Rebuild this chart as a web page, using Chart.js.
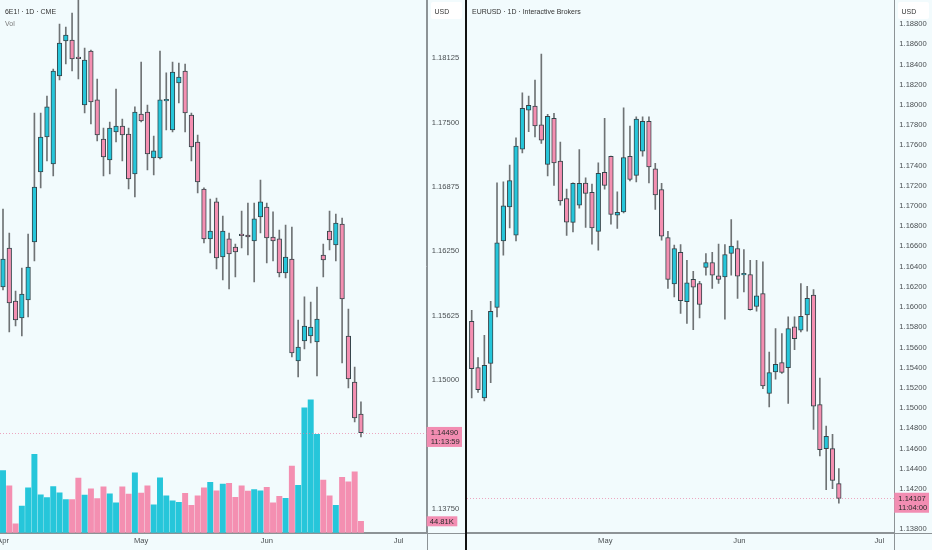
<!DOCTYPE html>
<html>
<head>
<meta charset="utf-8">
<title>6E1! vs EURUSD</title>
<script src="https://cdn.jsdelivr.net/npm/chart.js@4.4.1/dist/chart.umd.min.js"></script>
<style>
    html, body { margin: 0; padding: 0; background: #f2fbfd; }
    #wrap { position: relative; width: 932px; height: 550px; overflow: hidden; background: #f2fbfd; }
    #leftBox { position: absolute; left: 0; top: 0; width: 465px; height: 550px; }
    #rightBox { position: absolute; left: 467px; top: 0; width: 465px; height: 550px; }
    #sep { position: absolute; left: 465px; top: 0; width: 2px; height: 550px; background: #111; }
</style>
</head>
<body>
<div id="wrap">
    <div id="leftBox"><canvas id="leftChart" width="465" height="550"></canvas></div>
    <div id="sep"></div>
    <div id="rightBox"><canvas id="rightChart" width="465" height="550"></canvas></div>
</div>
<script>
// 6E1! (CME futures), daily bars
const leftOpen = [1.15903, 1.16281, 1.15767, 1.15602, 1.15777, 1.16339, 1.17019, 1.17358, 1.17096, 1.17950,
    1.18290, 1.18300, 1.18125, 1.17669, 1.18193, 1.17718, 1.17339, 1.17135, 1.17407, 1.17465,
    1.17387, 1.16999, 1.17582, 1.17601, 1.17155, 1.17155, 1.17708, 1.17426, 1.17883, 1.17999,
    1.17572, 1.17310, 1.16854, 1.16369, 1.16728, 1.16194, 1.16369, 1.16291, 1.16407, 1.16407,
    1.16349, 1.16582, 1.16679, 1.16388, 1.16369, 1.16039, 1.16174, 1.15184, 1.15379, 1.15427,
    1.15369, 1.16213, 1.16446, 1.16310, 1.16514, 1.15427, 1.14981, 1.14670];
const leftHigh = [1.16660, 1.16427, 1.15864, 1.16087, 1.16417, 1.17591, 1.17591, 1.17756, 1.18018, 1.18455,
    1.18426, 1.18562, 1.18766, 1.18222, 1.18203, 1.17921, 1.17446, 1.17504, 1.17824, 1.17533,
    1.17446, 1.17650, 1.18086, 1.17669, 1.17368, 1.18193, 1.17980, 1.18086, 1.18077, 1.18067,
    1.17591, 1.17378, 1.16864, 1.16757, 1.16766, 1.16592, 1.16427, 1.16320, 1.16640, 1.16718,
    1.16718, 1.16941, 1.16718, 1.16631, 1.16456, 1.16504, 1.16485, 1.15582, 1.15806, 1.15757,
    1.15903, 1.16320, 1.16640, 1.16611, 1.16572, 1.15689, 1.15126, 1.14787];
const leftLow = [1.15874, 1.15466, 1.15524, 1.15427, 1.15612, 1.16155, 1.16864, 1.17126, 1.16980, 1.17912,
    1.18067, 1.17999, 1.17921, 1.17591, 1.17485, 1.17320, 1.16980, 1.16999, 1.17310, 1.17126,
    1.16854, 1.16776, 1.17504, 1.17038, 1.16990, 1.17145, 1.17426, 1.17407, 1.17688, 1.17407,
    1.17126, 1.16815, 1.16330, 1.16233, 1.16077, 1.15971, 1.15883, 1.16000, 1.16281, 1.16213,
    1.15951, 1.16427, 1.16136, 1.16155, 1.16000, 1.15990, 1.15223, 1.15029, 1.15301, 1.15359,
    1.15039, 1.16000, 1.16262, 1.16155, 1.15165, 1.14923, 1.14593, 1.14447];
const leftClose = [1.16174, 1.15747, 1.15582, 1.15835, 1.16097, 1.16873, 1.17358, 1.17650, 1.17999, 1.18271,
    1.18348, 1.18115, 1.18118, 1.18106, 1.17698, 1.17378, 1.17164, 1.17446, 1.17465, 1.17378,
    1.16951, 1.17601, 1.17514, 1.17193, 1.17223, 1.17718, 1.17712, 1.17989, 1.17941, 1.17591,
    1.17261, 1.16922, 1.16369, 1.16446, 1.16184, 1.16446, 1.16223, 1.16242, 1.16400, 1.16388,
    1.16563, 1.16728, 1.16378, 1.16349, 1.16039, 1.16194, 1.15262, 1.15320, 1.15524, 1.15514,
    1.15592, 1.16165, 1.16359, 1.16524, 1.15786, 1.15010, 1.14631, 1.14490];
// volume in thousands of contracts
const leftVolume = [244, 184, 35, 105, 176, 308, 149, 138, 181, 157,
    130, 130, 215, 148, 172, 134, 180, 153, 117, 180,
    152, 235, 156, 184, 110, 216, 145, 125, 119, 155,
    108, 145, 176, 198, 165, 191, 194, 139, 184, 164,
    169, 165, 178, 117, 143, 135, 262, 186, 491, 522,
    387, 207, 145, 108, 218, 200, 239, 44.81];
const leftMonthTicks = [0, 22, 42, 63];
const leftMonthLabels = ['Apr', 'May', 'Jun', 'Jul'];
const leftPriceTicks = [1.18125, 1.17500, 1.16875, 1.16250, 1.15625, 1.15000, 1.13750];

// EURUSD (Interactive Brokers), daily bars
const rightOpen = [1.15859, 1.15401, 1.15100, 1.15441, 1.15995, 1.16654, 1.16991, 1.16711, 1.17562, 1.17949,
    1.17988, 1.17803, 1.17411, 1.17866, 1.17444, 1.17074, 1.16837, 1.17008, 1.17226, 1.17134,
    1.16748, 1.17332, 1.17490, 1.16909, 1.16942, 1.17490, 1.17302, 1.17543, 1.17837, 1.17367,
    1.17163, 1.16688, 1.16229, 1.16540, 1.16054, 1.16275, 1.16233, 1.16391, 1.16441, 1.16308,
    1.16298, 1.16530, 1.16579, 1.16318, 1.16322, 1.16005, 1.16134, 1.15144, 1.15357, 1.15450,
    1.15401, 1.15803, 1.15770, 1.15922, 1.16117, 1.15035, 1.14599, 1.14599, 1.14253];
const rightHigh = [1.15968, 1.15500, 1.15721, 1.16057, 1.17229, 1.17239, 1.17404, 1.17674, 1.18120, 1.18087,
    1.18246, 1.18503, 1.17906, 1.17916, 1.17632, 1.17166, 1.17229, 1.17559, 1.17278, 1.17216,
    1.17427, 1.17866, 1.17493, 1.17140, 1.17971, 1.17790, 1.17882, 1.17882, 1.17882, 1.17421,
    1.17223, 1.16750, 1.16612, 1.16619, 1.16463, 1.16354, 1.16255, 1.16530, 1.16540, 1.16622,
    1.16619, 1.16866, 1.16654, 1.16569, 1.16463, 1.16463, 1.16447, 1.15555, 1.15787, 1.15738,
    1.15902, 1.15902, 1.16233, 1.16206, 1.16173, 1.15298, 1.14823, 1.14741, 1.14401];
const rightLow = [1.15100, 1.15154, 1.15070, 1.15252, 1.15902, 1.16513, 1.16783, 1.16654, 1.17526, 1.17734,
    1.17684, 1.17619, 1.17298, 1.17203, 1.17008, 1.16708, 1.16744, 1.16978, 1.16787, 1.16622,
    1.16562, 1.17166, 1.16820, 1.16777, 1.16932, 1.17249, 1.17239, 1.17493, 1.17229, 1.16965,
    1.16661, 1.16183, 1.16100, 1.15936, 1.15837, 1.15777, 1.15892, 1.16315, 1.16183, 1.16233,
    1.15879, 1.16315, 1.16084, 1.16150, 1.15968, 1.15958, 1.15193, 1.15011, 1.15285, 1.15342,
    1.15045, 1.15579, 1.15754, 1.15760, 1.14790, 1.14526, 1.14193, 1.14203, 1.14060];
const rightClose = [1.15391, 1.15183, 1.15424, 1.15958, 1.16635, 1.17001, 1.17252, 1.17592, 1.17965, 1.17995,
    1.17793, 1.17652, 1.17886, 1.17427, 1.17051, 1.16840, 1.17223, 1.17223, 1.17124, 1.16783,
    1.17322, 1.17203, 1.16916, 1.16936, 1.17480, 1.17262, 1.17859, 1.17837, 1.17387, 1.17110,
    1.16701, 1.16272, 1.16579, 1.16064, 1.16239, 1.16196, 1.16025, 1.16441, 1.16315, 1.16272,
    1.16520, 1.16602, 1.16305, 1.16326, 1.15975, 1.16110, 1.15219, 1.15351, 1.15434, 1.15354,
    1.15787, 1.15688, 1.15909, 1.16087, 1.15018, 1.14589, 1.14721, 1.14285, 1.14107];
const rightMonthTicks = [21.1, 42.3, 64.4];
const rightMonthLabels = ['May', 'Jun', 'Jul'];
const rightPriceTicks = [1.188, 1.186, 1.184, 1.182, 1.180, 1.178, 1.176, 1.174, 1.172, 1.170,
    1.168, 1.166, 1.164, 1.162, 1.160, 1.158, 1.156, 1.154, 1.152, 1.150,
    1.148, 1.146, 1.144, 1.142, 1.138];

const FONT = '"Liberation Sans", Arial, sans-serif';
const UP = '#26c6da';
const DOWN = '#f48fb1';
const AXIS = '#8d9396';
const TEXT = '#4a4f52';

Chart.defaults.font.family = FONT;
Chart.defaults.font.size = 7.6;
Chart.defaults.color = TEXT;

function candleDatasets(open, high, low, close) {
    const colors = close.map((c, i) => c >= open[i] ? UP : DOWN);
    return [{
        label: 'wick',
        data: high.map((h, i) => ({ x: i, y: [low[i], h] })),
        backgroundColor: '#6f7375',
        barThickness: 1,
        grouped: false,
        order: 2,
        yAxisID: 'y'
    }, {
        label: 'body',
        data: open.map((o, i) => ({ x: i, y: [o, close[i]] })),
        backgroundColor: colors,
        borderColor: '#34444a',
        borderWidth: 1,
        borderSkipped: false,
        barThickness: 4.6,
        minBarLength: 1.6,
        grouped: false,
        order: 1,
        yAxisID: 'y'
    }];
}

function roundRect(ctx, x, y, w, h, r) {
    ctx.beginPath();
    ctx.moveTo(x + r, y);
    ctx.lineTo(x + w - r, y);
    ctx.quadraticCurveTo(x + w, y, x + w, y + r);
    ctx.lineTo(x + w, y + h - r);
    ctx.quadraticCurveTo(x + w, y + h, x + w - r, y + h);
    ctx.lineTo(x + r, y + h);
    ctx.quadraticCurveTo(x, y + h, x, y + h - r);
    ctx.lineTo(x, y + r);
    ctx.quadraticCurveTo(x, y, x + r, y);
    ctx.closePath();
}

// narrow-ish text like the screenshot
function squeezedText(ctx, text, x, y, k) {
    ctx.save();
    ctx.translate(x, y);
    ctx.scale(k, 1);
    ctx.fillText(text, 0, 0);
    ctx.restore();
}

// title, USD box, last price marker, countdown etc.
function overlay(opts) {
    return {
        id: 'overlay',
        afterDraw(chart) {
            const ctx = chart.ctx;
            const area = chart.chartArea;
            const W = chart.width, H = chart.height;
            ctx.save();

            ctx.strokeStyle = AXIS;
            ctx.lineWidth = 1;
            ctx.beginPath();
            ctx.moveTo(Math.round(area.right) + 0.5, 0);
            ctx.lineTo(Math.round(area.right) + 0.5, H);
            ctx.moveTo(0, Math.round(area.bottom) + 0.5);
            ctx.lineTo(W, Math.round(area.bottom) + 0.5);
            ctx.stroke();

            ctx.font = '8px ' + FONT;
            ctx.fillStyle = '#333';
            ctx.textBaseline = 'alphabetic';
            ctx.textAlign = 'left';
            squeezedText(ctx, opts.title, 5, 14, 0.87);
            if (opts.volLabel) {
                ctx.fillStyle = '#7a7a7a';
                squeezedText(ctx, 'Vol', 5, 25.5, 0.87);
            }

            // USD box
            ctx.fillStyle = '#ffffff';
            roundRect(ctx, W - 34, 2, 31, 17, 2);
            ctx.fill();
            ctx.fillStyle = '#333';
            squeezedText(ctx, 'USD', W - 30.5, 14.3, 0.87);

            // last price line + label
            const yLast = chart.scales.y.getPixelForValue(opts.last);
            ctx.strokeStyle = 'rgba(232, 120, 160, 0.65)';
            ctx.setLineDash([1, 2]);
            ctx.beginPath();
            ctx.moveTo(0, Math.round(yLast) + 0.5);
            ctx.lineTo(area.right, Math.round(yLast) + 0.5);
            ctx.stroke();
            ctx.setLineDash([]);

            ctx.font = '7.6px ' + FONT;
            ctx.fillStyle = '#f28db2';
            ctx.fillRect(area.right, yLast - 5.6, W - area.right - 3, 20);
            ctx.fillStyle = '#2b2b2b';
            ctx.textBaseline = 'middle';
            ctx.fillText(opts.last.toFixed(5), area.right + 4, yLast + 0.2);
            ctx.fillText(opts.countdown, area.right + 4, yLast + 9.4);

            if (opts.volume != null) {
                const yVol = chart.scales.vol.getPixelForValue(opts.volume);
                ctx.fillStyle = '#f28db2';
                ctx.fillRect(area.right, yVol - 5, 30.6, 10);
                ctx.fillStyle = '#2b2b2b';
                ctx.fillText(opts.volume.toFixed(2) + 'K', area.right + 3, yVol + 0.3);
            }
            ctx.restore();
        }
    };
}

function makeScales(xMin, xMax, monthTicks, monthLabels, yMin, yMax, priceTicks, axisWidth) {
    return {
        x: {
            type: 'linear',
            min: xMin,
            max: xMax,
            offset: false,
            grid: { display: false, drawTicks: false },
            border: { display: true, color: AXIS },
            ticks: {
                autoSkip: false,
                maxRotation: 0,
                padding: 4,
                color: TEXT,
                callback: (v, i) => monthLabels[i]
            },
            afterBuildTicks: s => { s.ticks = monthTicks.map(v => ({ value: v })); },
            afterFit: s => { s.height = 17.3; s.paddingLeft = 0; s.paddingRight = 0; }
        },
        y: {
            type: 'linear',
            position: 'right',
            min: yMin,
            max: yMax,
            grid: { display: false, drawTicks: false },
            border: { display: true, color: AXIS },
            ticks: {
                padding: 5,
                color: TEXT,
                callback: v => v.toFixed(5)
            },
            afterBuildTicks: s => { s.ticks = priceTicks.map(v => ({ value: v })); },
            afterFit: s => { s.width = axisWidth; s.paddingTop = 0; s.paddingBottom = 0; }
        }
    };
}

const baseOptions = {
    responsive: false,
    animation: false,
    layout: { padding: 0 },
    plugins: { legend: { display: false }, tooltip: { enabled: false } }
};

// Left chart: futures with volume
const leftScales = makeScales(-0.478, 67.47, leftMonthTicks, leftMonthLabels,
    1.13518, 1.18688, leftPriceTicks, 38.3);
leftScales.vol = { type: 'linear', display: false, min: 0, max: 2093.5 };

new Chart(document.getElementById('leftChart').getContext('2d'), {
    type: 'bar',
    data: {
        datasets: [
            ...candleDatasets(leftOpen, leftHigh, leftLow, leftClose),
            {
                label: 'Vol',
                data: leftVolume.map((v, i) => ({ x: i, y: v })),
                backgroundColor: leftClose.map((c, i) => c >= leftOpen[i] ? UP : DOWN),
                barThickness: 5.3,
                grouped: false,
                order: 3,
                yAxisID: 'vol'
            }
        ]
    },
    options: { ...baseOptions, scales: leftScales },
    plugins: [overlay({
        title: '6E1! \u00b7 1D \u00b7 CME',
        volLabel: true,
        last: leftClose[leftClose.length - 1],
        countdown: '11:13:59',
        volume: leftVolume[leftVolume.length - 1]
    })]
});

// Right chart: spot EURUSD
new Chart(document.getElementById('rightChart').getContext('2d'), {
    type: 'bar',
    data: { datasets: candleDatasets(rightOpen, rightHigh, rightLow, rightClose) },
    options: {
        ...baseOptions,
        scales: makeScales(-0.742, 66.76, rightMonthTicks, rightMonthLabels,
            1.13767, 1.19038, rightPriceTicks, 37.7)
    },
    plugins: [overlay({
        title: 'EURUSD \u00b7 1D \u00b7 Interactive Brokers',
        volLabel: false,
        last: rightClose[rightClose.length - 1],
        countdown: '11:04:00',
        volume: null
    })]
});
</script>
</body>
</html>
